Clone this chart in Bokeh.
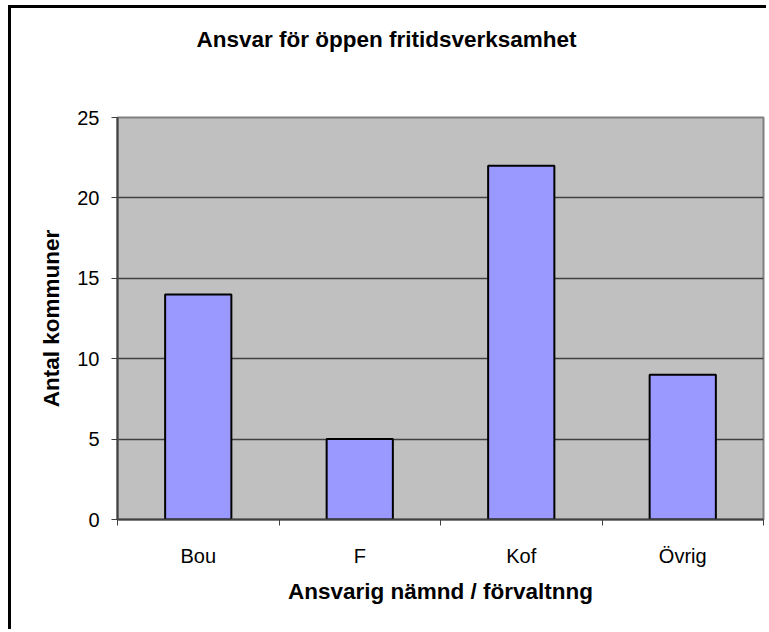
from bokeh.plotting import figure
from bokeh.models import Range1d, FixedTicker, Title
from bokeh.embed import file_html
from bokeh.resources import INLINE

categories = ["Bou", "F", "Kof", "Övrig"]
values = [14, 5, 22, 9]
y_ticks = [0, 5, 10, 15, 20, 25]

FONT = "Liberation Sans"

x_pos = [i + 0.5 for i in range(len(categories))]

p = figure(width=758, height=624, output_backend="svg", toolbar_location=None,
           x_range=Range1d(0, len(categories)), y_range=Range1d(0, 25),
           min_border_left=106, min_border_top=109, min_border_right=6,
           min_border_bottom=113)
p.margin = (5, 0, 0, 8)
p.styles = {"border-left": "3px solid black", "border-top": "3px solid black"}

p.background_fill_color = "#C0C0C0"
p.border_fill_color = "white"
p.outline_line_color = "#808080"
p.outline_line_width = 2

p.vbar(x=x_pos, top=values, width=0.41, bottom=0,
       fill_color="#9999FF", line_color="black", line_width=2)

p.xgrid.grid_line_color = None
p.ygrid.ticker = FixedTicker(ticks=y_ticks)
p.ygrid.grid_line_color = "#404040"
p.ygrid.grid_line_width = 1.5

p.yaxis.ticker = FixedTicker(ticks=y_ticks)
p.yaxis.axis_line_color = "#404040"
p.yaxis.axis_line_width = 2
p.yaxis.major_tick_line_color = "#404040"
p.yaxis.major_tick_out = 6
p.yaxis.major_tick_in = 0
p.yaxis.minor_tick_line_color = None
p.yaxis.major_label_text_font = FONT
p.yaxis.major_label_text_font_size = "20px"
p.yaxis.major_label_text_color = "black"
p.yaxis.major_label_standoff = 12
p.yaxis.axis_label = "Antal kommuner"
p.yaxis.axis_label_text_font = FONT
p.yaxis.axis_label_text_font_style = "bold"
p.yaxis.axis_label_text_font_size = "22.5px"
p.yaxis.axis_label_text_color = "black"
p.yaxis.axis_label_standoff = 10

p.xaxis.ticker = FixedTicker(ticks=x_pos, minor_ticks=list(range(len(categories) + 1)))
p.xaxis.major_label_overrides = {x: c for x, c in zip(x_pos, categories)}
p.xaxis.axis_line_color = "#404040"
p.xaxis.axis_line_width = 2
p.xaxis.major_tick_line_color = None
p.xaxis.major_tick_out = 0
p.xaxis.major_tick_in = 0
p.xaxis.minor_tick_line_color = "#404040"
p.xaxis.minor_tick_out = 6
p.xaxis.minor_tick_in = 0
p.xaxis.major_label_text_font = FONT
p.xaxis.major_label_text_font_size = "20px"
p.xaxis.major_label_text_color = "black"
p.xaxis.major_label_standoff = 19
p.xaxis.axis_label = "Ansvarig nämnd / förvaltnng"
p.xaxis.axis_label_text_font = FONT
p.xaxis.axis_label_text_font_style = "bold"
p.xaxis.axis_label_text_font_size = "22.5px"
p.xaxis.axis_label_text_color = "black"
p.xaxis.axis_label_standoff = 9

# invisible spacer panel (white dot on white) between the frame and the title
spacer = Title(text=".", align="left", offset=0, standoff=58, text_font=FONT,
               text_font_size="1px", text_color="white")
p.add_layout(spacer, "above")

title = Title(text="Ansvar för öppen fritidsverksamhet", align="left", offset=79,
              standoff=10, text_font=FONT,
              text_font_style="bold", text_font_size="22.5px", text_color="black")
p.add_layout(title, "above")

open("out.html", "w").write(file_html(p, INLINE))
